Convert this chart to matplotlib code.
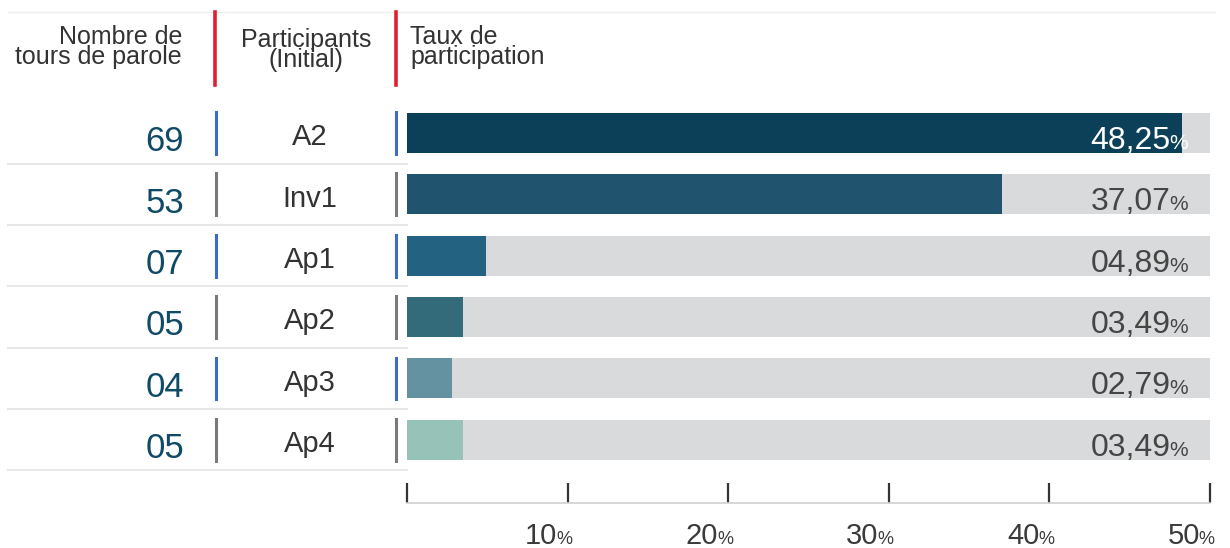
import matplotlib
matplotlib.use("Agg")
import matplotlib.pyplot as plt
import matplotlib.transforms as mtransforms
from matplotlib.lines import Line2D

# data
participants = ["A2", "Inv1", "Ap1", "Ap2", "Ap3", "Ap4"]
tours = ["69", "53", "07", "05", "04", "05"]
taux = [48.25, 37.07, 4.89, 3.49, 2.79, 3.49]
taux_labels = ["48,25", "37,07", "04,89", "03,49", "02,79", "03,49"]
bar_colors = ["#0b4058", "#1f536e", "#246282", "#336b7a", "#6592a0", "#96c2b8"]
sep_colors = ["#3b6cc6", "#7a7a7a", "#3b6cc6", "#7a7a7a", "#3b6cc6", "#7a7a7a"]
ticks = [10, 20, 30, 40, 50]

W, H = 1230, 548
FONT = ["Liberation Sans", "DejaVu Sans"]


def fx(px):
    return px / W


def fy(py):
    return 1 - py / H


def number_pct(ax, x, y, num, size, psize, color, **kw):
    # '%' set right-aligned at x, number placed just left of it
    pct = ax.text(x, y, "%", ha="right", va="baseline", fontsize=psize,
                  color=color, family=FONT, **kw)
    r = ax.figure.canvas.get_renderer()
    wpx = pct.get_window_extent(renderer=r).width
    off = mtransforms.offset_copy(pct.get_transform(), fig=ax.figure,
                                  x=-wpx + 1, y=0, units="dots")
    ax.text(x, y, num, ha="right", va="baseline", fontsize=size, color=color,
            family=FONT, transform=off, **kw)


fig = plt.figure(figsize=(W / 100, H / 100), dpi=100)
# bar axes: 0% at x=407px, 50% at x=1210px ; rows -0.5 at 102px, bottom line at 503px
ax = fig.add_axes([fx(407), fy(503), fx(1210) - fx(407), (503 - 102.3) / H])
n = len(participants)
rows = list(range(n))
ax.set_xlim(0, 50)
ax.set_ylim(6.03, -0.5)

ax.barh(rows, [50] * n, height=0.65, color="#d9dadb", left=0)
ax.barh(rows, taux, height=0.65, color=bar_colors, left=0)

for s in ["top", "right", "left"]:
    ax.spines[s].set_visible(False)
ax.spines["bottom"].set_color("#d0d0d0")
ax.spines["bottom"].set_linewidth(1.2)
ax.set_yticks([])
ax.set_xticks([0] + ticks)
ax.set_xticklabels([])
ax.tick_params(axis="x", direction="in", length=14.5, width=1.6, color="#333333")

# value labels, number large, percent sign small
for i in rows:
    col = "white" if i == 0 else "#454545"
    number_pct(ax, 48.65, i + 0.26, taux_labels[i], 23, 15, col)

# tick labels under the axis
for t in ticks:
    number_pct(ax, t + 0.3, 6.70, str(t), 21, 13, "#3a3a3a", clip_on=False)

# left columns, x in figure coords, y in row coords
tr = mtransforms.blended_transform_factory(fig.transFigure, ax.transData)
for i in rows:
    ax.text(fx(184), i + 0.3, tours[i], transform=tr, ha="right", va="baseline",
            fontsize=25, color="#0f4a66", family=FONT, clip_on=False)
    ax.text(fx(310), i + 0.07, participants[i], transform=tr, ha="center", va="center",
            fontsize=21, color="#333333", family=FONT, clip_on=False)
    for xp in (216, 396):
        ax.add_line(Line2D([fx(xp), fx(xp)], [i - 0.34, i + 0.34], transform=tr,
                           color=sep_colors[i], lw=2.2, clip_on=False))
    ax.add_line(Line2D([fx(8), fx(407)], [i + 0.5, i + 0.5], transform=tr,
                       color="#e8e8e8", lw=1.5, clip_on=False))

# header
fig.add_artist(Line2D([fx(8), fx(1215)], [fy(12), fy(12)], color="#eeeeee", lw=1))
for xp in (215, 396):
    fig.add_artist(Line2D([fx(xp), fx(xp)], [fy(12), fy(85)], color="#e02030", lw=2.6))
fig.text(fx(182), fy(47), "Nombre de\ntours de parole", ha="right", va="center",
         fontsize=18, color="#333333", family=FONT, linespacing=0.82, multialignment="right")
fig.text(fx(306), fy(50), "Participants\n(Initial)", ha="center", va="center",
         fontsize=18, color="#333333", family=FONT, linespacing=0.82, multialignment="center")
fig.text(fx(410), fy(47), "Taux de\nparticipation", ha="left", va="center",
         fontsize=18, color="#333333", family=FONT, linespacing=0.82, multialignment="left")

fig.savefig("out.png", dpi=100)
